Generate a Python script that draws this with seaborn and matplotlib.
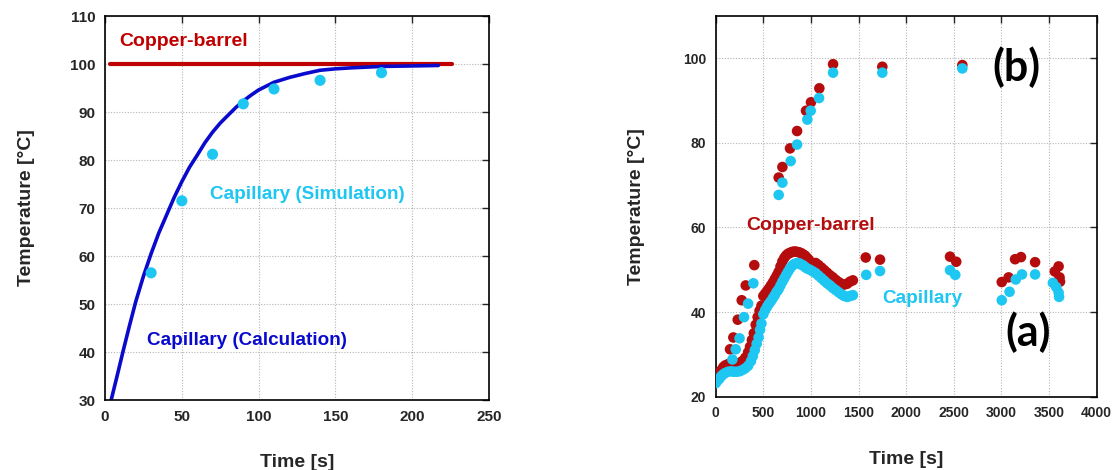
import numpy as np
import pandas as pd
import matplotlib
matplotlib.use("Agg")
import matplotlib.pyplot as plt
import seaborn as sns

# ---- left panel: capillary heating at a fixed copper-barrel temperature ----
barrel_time = [3, 226]
barrel_temp = [100, 100]

calc_time = [4, 8, 12, 16, 20, 25, 30, 35, 40, 45, 50, 55, 60, 65, 70, 75, 80, 85, 90,
             95, 100, 110, 120, 130, 140, 150, 160, 180, 200, 217]
calc_temp = [30, 35.2, 40.5, 45.6, 50.5, 55.8, 60.5, 64.8, 68.5, 72.2, 75.5, 78.5, 81.0,
             83.6, 85.8, 87.7, 89.3, 90.9, 92.3, 93.5, 94.6, 96.2, 97.2, 98.0, 98.7,
             99.0, 99.2, 99.5, 99.6, 99.7]

sim_time = [30, 50, 70, 90, 110, 140, 180]
sim_temp = [56.5, 71.5, 81.2, 91.7, 94.8, 96.6, 98.2]

# ---- right panel: measured temperatures, runs (a) and (b) ----
copper_b_time = [661, 700, 780, 854, 948, 1000, 1088, 1232, 1749, 2589]
copper_b_temp = [71.8, 74.3, 78.7, 82.8, 87.6, 89.6, 92.9, 98.6, 98.0, 98.4]
cap_b_time = [661, 700, 787, 854, 962, 997, 1085, 1232, 1749, 2589]
cap_b_temp = [67.7, 70.6, 75.7, 79.6, 85.5, 87.6, 90.6, 96.6, 96.6, 97.6]

copper_a_time = [0, 20, 40, 60, 80, 100, 130, 160, 190, 220, 250, 280, 310, 340, 360,
                 380, 400, 420, 440, 460, 480, 500, 520, 540, 560, 580, 600, 620, 640,
                 660, 680, 700, 720, 740, 760, 780, 800, 820, 840, 860, 880, 900, 920,
                 940, 960, 980, 1050, 1080, 1110, 1140, 1170, 1200, 1230, 1260, 1290,
                 1320, 1350, 1380, 1410, 1440,
                 150, 185, 231, 273, 315, 405,
                 1575, 1725, 2460, 2525, 3003, 3075, 3143, 3205, 3353, 3560, 3600,
                 3610, 3615]
copper_a_temp = [24.3, 25.0, 25.6, 26.3, 27.0, 27.4, 27.7, 27.8, 27.8, 27.9, 28.0, 28.4,
                 29.2, 30.5, 31.8, 33.4, 35.0, 37.0, 38.8, 40.3, 41.5, 43.8, 44.4, 45.0,
                 45.6, 46.3, 47.0, 47.8, 48.6, 49.5, 50.8, 52.0, 52.8, 53.4, 53.8, 54.0,
                 54.2, 54.3, 54.3, 54.2, 54.1, 53.9, 53.6, 53.3, 52.8, 52.3, 51.6, 51.1,
                 50.5, 49.9, 49.3, 48.7, 48.2, 47.6, 47.1, 46.7, 46.5, 46.7, 47.2, 47.5,
                 31.2, 34.0, 38.2, 42.8, 46.3, 51.1,
                 52.9, 52.4, 53.1, 51.9, 47.1, 48.2, 52.5, 53.0, 51.8, 49.6, 50.8,
                 48.2, 47.2]

cap_a_time = [0, 20, 40, 60, 80, 100, 130, 160, 190, 220, 250, 280, 310, 340, 370, 390,
              410, 430, 450, 465, 480, 500, 520, 540, 560, 580, 600, 620, 640, 660, 680,
              700, 720, 740, 760, 780, 800, 820, 840, 860, 880, 900, 920, 940, 960, 990,
              1020, 1050, 1080, 1110, 1140, 1170, 1200, 1230, 1260, 1290, 1320, 1350,
              1380, 1410, 1440,
              175, 210, 250, 297, 340, 395,
              1580, 1725, 2460, 2515, 3003, 3085, 3150, 3215, 3353, 3540, 3575, 3600,
              3605]
cap_a_temp = [23.2, 23.8, 24.3, 24.9, 25.3, 25.6, 25.9, 26.0, 25.9, 25.9, 26.0, 26.3,
              26.7, 27.3, 28.4, 29.6, 31.0, 32.5, 34.0, 35.8, 37.3, 39.5, 40.5, 41.3,
              42.0, 42.6, 43.3, 44.0, 44.8, 45.4, 46.3, 47.2, 48.0, 48.8, 49.6, 50.3,
              50.9, 51.3, 51.5, 51.6, 51.5, 51.2, 51.0, 50.6, 50.3, 50.0, 49.6, 49.2,
              48.6, 48.0, 47.4, 46.8, 46.3, 45.7, 45.2, 44.7, 44.2, 43.8, 43.6, 43.8,
              44.0,
              28.8, 31.2, 33.8, 38.8, 42.0, 46.8,
              48.8, 49.7, 49.9, 48.8, 42.8, 44.8, 47.7, 48.9, 48.9, 46.9, 45.9, 44.6,
              43.6]

RED = "#c00000"
DARK_RED = "#b50d0d"
BLUE = "#0a0acc"
CYAN = "#1ec6f2"

sns.set_style("white")
plt.rcParams["font.family"] = ["Liberation Sans", "DejaVu Sans"]
plt.rcParams["font.weight"] = "bold"

fig = plt.figure(figsize=(11.15, 4.70), dpi=100)
ax1 = fig.add_axes([0.0942, 0.1489, 0.3444, 0.8170])
ax2 = fig.add_axes([0.6419, 0.1560, 0.3417, 0.8100])


def style_axes(ax, xlim, ylim, xticks, yticks, tick_size, ypad):
    ax.set_xlim(*xlim)
    ax.set_ylim(*ylim)
    ax.set_xticks(xticks)
    ax.set_yticks(yticks)
    ax.grid(True, color="#b4b4b4", linestyle=(0, (1, 1.5)), linewidth=0.8)
    ax.set_axisbelow(True)
    for sp in ax.spines.values():
        sp.set_visible(True)
        sp.set_color("black")
        sp.set_linewidth(1.2)
    ax.tick_params(direction="in", length=5, width=1, top=True, right=True,
                   labelsize=tick_size, pad=7)
    for lab in ax.get_xticklabels() + ax.get_yticklabels():
        lab.set_fontweight("bold")
    ax.set_xlabel("Time [s]", fontsize=14, fontweight="bold", labelpad=22)
    ax.set_ylabel("Temperature [°C]", fontsize=14, fontweight="bold", labelpad=ypad)


# left panel
sns.lineplot(x=barrel_time, y=barrel_temp, ax=ax1, color=RED, linewidth=3.0,
             sort=False, estimator=None)
sns.lineplot(x=calc_time, y=calc_temp, ax=ax1, color=BLUE, linewidth=2.6,
             sort=False, estimator=None)
sns.scatterplot(x=sim_time, y=sim_temp, ax=ax1, color=CYAN, s=64, edgecolor="none",
                zorder=3)
style_axes(ax1, (0, 250), (30, 110), np.arange(0, 251, 50), np.arange(30, 111, 10), 11, 25)
ax1.text(9.1, 104.6, "Copper-barrel", color=RED, fontsize=14, fontweight="bold",
         ha="left", va="center")
ax1.text(68.4, 72.9, "Capillary (Simulation)", color=CYAN, fontsize=13.6,
         fontweight="bold", ha="left", va="center")
ax1.text(27.3, 42.3, "Capillary (Calculation)", color=BLUE, fontsize=13.6,
         fontweight="bold", ha="left", va="center")

# right panel
sns.scatterplot(x=copper_a_time, y=copper_a_temp, ax=ax2, color=DARK_RED, s=58,
                edgecolor="none", zorder=3)
sns.scatterplot(x=copper_b_time, y=copper_b_temp, ax=ax2, color=DARK_RED, s=58,
                edgecolor="none", zorder=3)
sns.scatterplot(x=cap_a_time, y=cap_a_temp, ax=ax2, color=CYAN, s=58,
                edgecolor="none", zorder=4)
sns.scatterplot(x=cap_b_time, y=cap_b_temp, ax=ax2, color=CYAN, s=58,
                edgecolor="none", zorder=4)
style_axes(ax2, (0, 4000), (20, 110), np.arange(0, 4001, 500), np.arange(20, 101, 20), 10, 27)
ax2.text(325, 60.4, "Copper-barrel", color=DARK_RED, fontsize=14, fontweight="bold",
         ha="left", va="center")
ax2.text(1753, 43.2, "Capillary", color=CYAN, fontsize=13.6, fontweight="bold",
         ha="left", va="center")
ax2.text(2908, 97.8, "(b)", color="black", fontsize=31, fontweight="bold",
         family=["Lato", "DejaVu Sans"], ha="left", va="center")
ax2.text(3037, 35.2, "(a)", color="black", fontsize=31, fontweight="bold",
         family=["Lato", "DejaVu Sans"], ha="left", va="center")

fig.savefig("out.png", dpi=100)
